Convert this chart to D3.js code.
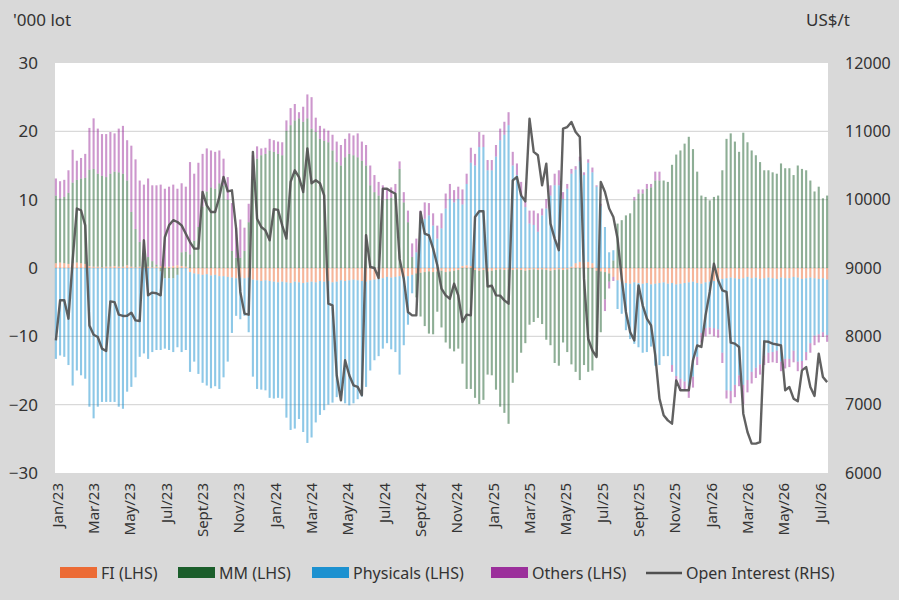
<!DOCTYPE html>
<html>
<head>
<meta charset="utf-8">
<script src="https://cdn.jsdelivr.net/npm/d3@7"></script>
<style>
  body { margin: 0; background: #d9d9d9; }
  svg { display: block; font-family: 'Noto Sans', sans-serif; }
</style>
</head>
<body>
<div class="chart"></div>
<script>
// weekly positioning, thousand lots
const fi = [
  0.7,0.8,0.7,0.6,0.7,0.8,0.7,0.6,0.3,0.2,
  0.2,0.1,0.2,0.2,0.3,0.2,0.2,0.4,0.2,0.1,
  0.2,0.1,0.2,0.1,0.2,0.3,0.2,0.2,0.3,0.4,
  0.3,0.2,-0.6,-0.8,-0.9,-1.0,-0.9,-1.1,-1.0,-1.2,
  -1.2,-1.3,-1.4,-1.5,-1.4,-1.5,-1.4,-1.7,-1.8,-1.9,
  -1.8,-1.9,-2.0,-2.1,-2.0,-2.1,-2.2,-2.0,-2.1,-2.2,
  -2.1,-2.0,-2.1,-1.9,-2.0,-1.9,-2.1,-2.0,-1.8,-1.9,
  -1.8,-1.7,-1.8,-1.9,-2.0,-1.8,-1.7,-1.6,-1.5,-1.3,
  -1.4,-1.3,-1.2,-1.3,-1.2,-1.0,-0.8,-0.7,-0.6,-0.5,
  -0.6,-0.5,-0.4,-0.6,-0.5,-0.4,-0.3,0.3,0.4,0.3,
  -0.3,-0.4,-0.3,-0.5,-0.4,-0.3,-0.2,-0.3,-0.2,-0.3,
  -0.2,-0.3,-0.4,-0.3,-0.2,-0.3,-0.2,-0.3,-0.4,-0.3,
  -0.2,-0.3,-0.2,0.2,0.7,0.9,0.8,0.9,0.7,-0.4,
  -0.5,-0.6,-0.8,-1.3,-1.8,-2.0,-2.2,-2.3,-2.1,-2.2,
  -2.3,-2.2,-2.4,-2.3,-2.2,-2.1,-2.3,-2.2,-2.4,-2.3,
  -2.2,-2.1,-2.0,-2.2,-2.3,-2.1,-2.0,-1.9,-1.8,-1.6,
  -1.5,-1.4,-1.5,-1.6,-1.5,-1.3,-1.5,-1.4,-1.6,-1.5,
  -1.4,-1.5,-1.6,-1.4,-1.5,-1.5,-1.3,-1.4,-1.6,-1.5,
  -1.4,-1.5,-1.6,-1.5,-1.7
];
const mm = [
  9.9,9.4,9.7,10.4,11.8,12.1,12.4,12.6,14.1,14.3,
  13.6,13.4,13.1,13.6,13.8,13.8,13.6,12.4,8.0,5.6,
  3.6,2.1,1.4,0.9,0.3,-0.5,-1.5,-1.5,-1.5,-1.0,
  2.0,2.2,2.0,4.0,6.0,9.0,11.2,11.8,11.6,12.4,
  12.1,10.0,2.5,1.5,1.5,2.5,6.7,13.0,16.0,16.5,
  16.7,17.2,17.0,16.7,16.5,20.1,20.9,21.6,21.9,21.4,
  21.9,20.4,19.9,18.9,18.6,18.4,17.2,15.5,15.0,16.2,
  16.7,16.5,16.2,15.7,15.0,12.1,11.1,10.6,9.9,10.1,
  10.3,11.0,14.5,9.6,6.7,1.6,-3.5,-6.4,-7.9,-9.1,
  -9.1,-5.9,-8.3,-10.3,-11.3,-11.8,-11.5,-14.0,-17.7,-17.7,
  -18.7,-19.5,-19.0,-15.1,-15.3,-17.5,-20.1,-20.9,-22.6,-16.5,
  -15.1,-12.1,-10.6,-8.0,-7.7,-7.0,-8.0,-10.2,-10.9,-13.6,
  -14.1,-10.6,-12.1,-14.1,-15.2,-16.4,-14.2,-15.2,-15.0,-12.5,
  -8.9,-4.0,-1.2,1.1,6.5,7.0,7.7,8.0,9.9,10.9,
  10.9,11.6,11.8,12.8,12.8,12.8,12.6,15.1,16.6,17.2,
  18.2,19.2,17.4,14.1,10.6,10.4,9.9,10.4,10.6,14.3,
  18.9,19.7,18.5,17.0,19.8,18.4,17.2,16.5,15.5,14.3,
  14.3,14.0,13.8,15.3,14.6,14.6,13.6,15.0,14.5,14.3,
  12.8,11.2,11.9,10.2,10.6
];
const physicals = [
  -13.3,-12.8,-13.0,-14.2,-17.2,-15.0,-15.7,-16.2,-20.3,-22.0,
  -20.3,-19.6,-19.6,-19.6,-19.6,-20.3,-20.6,-18.1,-17.4,-16.0,
  -13.0,-12.5,-13.3,-12.3,-12.0,-11.5,-10.3,-10.5,-10.8,-10.6,
  -12.3,-12.0,-14.6,-12.9,-14.6,-15.8,-16.3,-16.5,-16.3,-16.5,
  -14.8,-12.4,-8.1,-5.5,-6.1,-5.5,-8.0,-14.2,-15.9,-15.9,
  -16.1,-17.1,-17.1,-16.9,-17.1,-19.8,-21.5,-21.5,-20.0,-21.8,
  -23.5,-22.8,-20.5,-19.6,-18.8,-18.1,-17.6,-16.9,-16.9,-17.9,
  -18.3,-18.1,-17.4,-16.9,-15.4,-13.2,-11.8,-11.3,-10.3,-9.7,
  -10.5,-11.0,-14.4,-10.0,-7.1,-2.7,2.3,7.2,7.2,7.7,
  6.2,4.3,5.8,8.7,10.1,9.6,10.1,9.0,11.9,15.1,
  15.0,17.7,17.7,14.3,14.3,16.3,18.7,19.5,20.9,15.0,
  13.6,10.6,8.9,6.5,6.3,5.3,7.7,8.7,10.6,12.1,
  12.1,10.1,11.6,13.6,13.7,14.7,12.8,14.5,13.3,11.9,
  9.1,6.0,2.3,1.5,-4.2,-4.7,-6.9,-8.1,-9.0,-9.4,
  -10.1,-10.1,-9.1,-12.0,-12.0,-10.8,-10.6,-12.0,-13.4,-13.9,
  -14.4,-15.2,-13.9,-10.8,-7.2,-6.7,-6.7,-6.9,-7.2,-10.8,
  -16.4,-16.6,-15.6,-14.1,-15.6,-15.1,-13.7,-13.2,-12.5,-11.3,
  -11.0,-10.8,-10.5,-12.3,-11.8,-11.8,-10.8,-12.3,-12.0,-10.8,
  -9.6,-8.4,-8.1,-7.9,-8.1
];
const others = [
  2.5,2.5,2.5,3.3,4.8,2.8,3.0,3.5,6.1,7.4,
  6.6,6.1,6.3,6.1,5.6,6.4,7.0,5.9,9.7,10.2,
  9.0,10.0,11.5,11.1,11.6,11.9,11.4,11.7,11.9,11.2,
  10.1,9.5,13.5,9.8,9.4,7.7,6.3,5.4,5.4,4.8,
  3.9,3.3,7.0,4.4,5.6,3.4,2.7,3.5,1.8,1.0,
  0.9,1.7,1.7,1.8,1.9,1.5,2.5,2.4,0.9,2.2,
  3.5,4.6,2.1,1.9,1.8,1.7,2.3,3.0,3.0,2.7,
  3.0,2.9,3.5,2.8,3.0,2.9,2.5,2.0,2.2,1.5,
  1.5,1.3,1.1,1.5,1.7,2.0,2.0,1.2,2.4,1.8,
  1.8,1.9,2.2,2.2,2.2,1.8,1.8,2.2,1.5,2.2,
  1.7,2.2,1.8,1.5,1.5,1.7,1.7,1.9,1.9,2.0,
  1.7,2.0,0.8,1.9,2.1,2.7,1.0,1.4,1.5,1.7,
  2.2,1.0,0.7,0.7,0.5,0.7,0.4,0.5,0.7,0.2,
  0.3,-1.7,-1.0,-0.6,0.0,0.0,0.0,0.0,0.5,0.6,
  0.6,0.7,0.5,1.3,1.3,0.0,0.0,-1.0,-0.9,-1.8,
  -1.3,-1.7,-1.6,-1.2,-1.4,-1.2,-1.0,-1.2,-1.2,-1.5,
  -1.2,-1.8,-1.8,-1.6,-2.8,-1.8,-1.7,-1.5,-1.5,-1.4,
  -1.5,-1.5,-1.8,-1.4,-1.4,-1.2,-1.7,-1.4,-1.2,-1.2,
  -1.4,-1.4,-1.2,-0.7,-1.0
];
// open interest, US$/t axis
const openInterest = [
  7940,8527,8527,8258,9112,9870,9845,9624,8160,8024,
  7990,7820,7785,8512,8500,8317,8298,8300,8346,8234,
  8224,9405,8600,8640,8630,8600,9450,9624,9700,9673,
  9624,9500,9380,9283,9283,10112,9917,9820,9820,10040,
  10332,10122,10137,9575,8650,8332,8317,10700,9720,9600,
  9550,9405,9860,9850,9624,9430,10260,10430,10330,10112,
  10750,10240,10285,10240,10063,8478,8454,7430,7063,7650,
  7430,7283,7260,7137,9480,9015,9000,8853,10160,10160,
  10120,10087,9137,8844,8356,8307,8307,9820,9502,9478,
  9283,9040,8697,8600,8550,8770,8600,8210,8317,8307,
  9746,9830,9830,8730,8740,8600,8595,8527,8478,10283,
  10332,10063,9975,11185,10700,10650,10210,10527,9650,9430,
  9260,11040,11063,11137,10990,10917,8844,7965,7795,7697,
  10260,10112,9870,9746,9430,8844,8356,8063,7940,8746,
  8454,8258,8160,7722,7088,6844,6770,6722,7356,7210,
  7210,7210,7650,7868,7844,8307,8650,9063,8820,8673,
  8650,7907,7893,7844,6868,6600,6430,6430,6453,7927,
  7920,7893,7880,7868,7210,7258,7088,7050,7502,7550,
  7258,7127,7746,7405,7330
];
const monthLabels = ['Jan/23','Mar/23','May/23','Jul/23','Sept/23','Nov/23',
  'Jan/24','Mar/24','May/24','Jul/24','Sept/24','Nov/24',
  'Jan/25','Mar/25','May/25','Jul/25','Sept/25','Nov/25',
  'Jan/26','Mar/26','May/26','Jul/26'];
const leftTicks = [-30,-20,-10,0,10,20,30];
const rightTicks = [6000,7000,8000,9000,10000,11000,12000];
const seriesNames = ['FI (LHS)','MM (LHS)','Physicals (LHS)','Others (LHS)'];

const weeks = d3.timeFriday.range(new Date(2022, 11, 23), new Date(2026, 6, 10));
const rows = weeks.map((w, i) => ({
  week: w, FI: fi[i], MM: mm[i], Physicals: physicals[i], Others: others[i]
}));

const width = 899, height = 600;
const plotL = 55, plotR = 828, plotT = 63, plotB = 473;
const colors = {FI: '#ec6b35', MM: '#1b5e2b', Physicals: '#1c91d0', Others: '#9b2f9b'};
const keys = ['FI', 'MM', 'Physicals', 'Others'];

const svg = d3.select('.chart').append('svg')
  .attr('width', width)
  .attr('height', height);

svg.append('rect').attr('width', width).attr('height', height).attr('fill', '#d9d9d9');
svg.append('rect')
  .attr('x', plotL).attr('y', plotT)
  .attr('width', plotR - plotL).attr('height', plotB - plotT)
  .attr('fill', '#ffffff');

const y = d3.scaleLinear().domain([-30, 30]).range([plotB, plotT]);
const y2 = d3.scaleLinear().domain([6000, 12000]).range([plotB, plotT]);
const x = d3.scaleBand()
  .domain(d3.range(rows.length))
  .range([54, 829])
  .paddingInner(0.5)
  .paddingOuter(0.2);
const xLab = d3.scalePoint().domain(monthLabels).range([57, 820]);

// gridlines
svg.append('g')
  .selectAll('line')
  .data(leftTicks.slice(1, -1))
  .enter()
  .append('line')
  .attr('x1', plotL).attr('x2', plotR)
  .attr('y1', d => y(d)).attr('y2', d => y(d))
  .attr('stroke', '#d9d9d9')
  .attr('stroke-width', 1.2);

// stacked bars
const stacked = d3.stack().keys(keys).offset(d3.stackOffsetDiverging)(rows);

svg.append('g')
  .selectAll('g')
  .data(stacked)
  .enter()
  .append('g')
  .attr('fill', d => colors[d.key])
  .attr('fill-opacity', 0.5)
  .selectAll('rect')
  .data(d => d)
  .enter()
  .append('rect')
  .attr('x', (d, i) => x(i))
  .attr('width', x.bandwidth())
  .attr('y', d => y(Math.max(d[0], d[1])))
  .attr('height', d => Math.abs(y(d[0]) - y(d[1])));

// open interest line
const line = d3.line()
  .x((d, i) => x(i) + x.bandwidth() / 2)
  .y(d => y2(d));

svg.append('path')
  .datum(openInterest)
  .attr('d', line)
  .attr('fill', 'none')
  .attr('stroke', '#505050')
  .attr('stroke-width', 2.4)
  .attr('stroke-linejoin', 'round')
  .attr('stroke-opacity', 0.9);

// axes
const leftAxis = svg.append('g')
  .attr('transform', `translate(${plotL},0)`)
  .call(d3.axisLeft(y).tickValues(leftTicks).tickSize(0).tickPadding(17));
const rightAxis = svg.append('g')
  .attr('transform', `translate(${plotR},0)`)
  .call(d3.axisRight(y2).tickValues(rightTicks).tickSize(0).tickPadding(17).tickFormat(d3.format('d')));
const bottomAxis = svg.append('g')
  .attr('transform', `translate(0,${plotB})`)
  .call(d3.axisBottom(xLab).tickSize(0));

[leftAxis, rightAxis, bottomAxis].forEach(g => {
  g.select('.domain').remove();
  g.selectAll('text').attr('fill', '#333333').attr('font-family', "'Noto Sans', sans-serif");
});
leftAxis.selectAll('text').attr('font-size', 17);
rightAxis.selectAll('text').attr('font-size', 16);
bottomAxis.selectAll('text')
  .attr('font-size', 15)
  .attr('transform', 'rotate(-90)')
  .attr('text-anchor', 'end')
  .attr('x', -10)
  .attr('y', 0)
  .attr('dy', '0.35em');

// axis titles
svg.append('text')
  .text("'000 lot")
  .attr('x', 13).attr('y', 26)
  .attr('font-size', 17)
  .attr('fill', '#333333');
svg.append('text')
  .text('US$/t')
  .attr('x', 850).attr('y', 26)
  .attr('text-anchor', 'end')
  .attr('font-size', 17)
  .attr('fill', '#333333');

// legend
const legendX = [60, 178, 312, 491, 646];
const legend = svg.append('g');
keys.forEach((k, i) => {
  legend.append('rect')
    .attr('x', legendX[i]).attr('y', 567)
    .attr('width', 37).attr('height', 11)
    .attr('fill', colors[k]);
  legend.append('text')
    .text(seriesNames[i])
    .attr('x', legendX[i] + 41).attr('y', 579)
    .attr('font-size', 16)
    .attr('fill', '#333333');
});
legend.append('line')
  .attr('x1', legendX[4]).attr('x2', legendX[4] + 36)
  .attr('y1', 573).attr('y2', 573)
  .attr('stroke', '#505050')
  .attr('stroke-width', 2.4);
legend.append('text')
  .text('Open Interest (RHS)')
  .attr('x', legendX[4] + 40).attr('y', 579)
  .attr('font-size', 16)
  .attr('fill', '#333333');
</script>
</body>
</html>
